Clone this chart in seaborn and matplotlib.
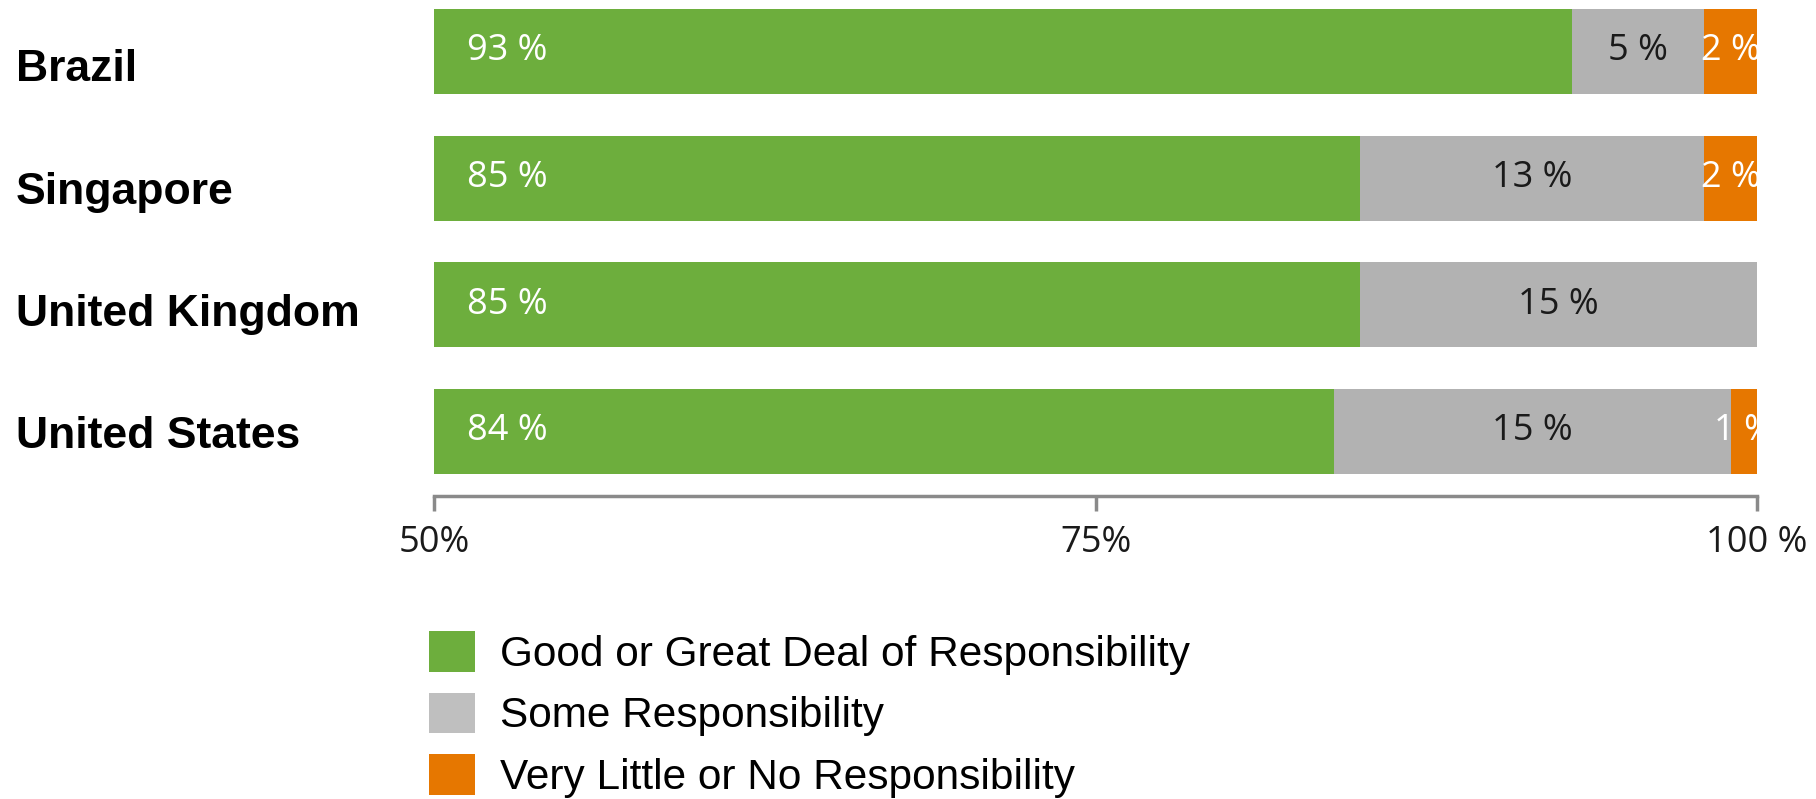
import matplotlib
matplotlib.use("Agg")
import matplotlib.pyplot as plt
from matplotlib.patches import Patch
from matplotlib.transforms import ScaledTranslation
import numpy as np
import pandas as pd
import seaborn as sns

# Survey shares by country (percent)
countries = ["Brazil", "Singapore", "United Kingdom", "United States"]
good_great = [93, 85, 85, 84]
some = [5, 13, 15, 15]
little_none = [2, 2, 0, 1]

series_names = [
    "Good or Great Deal of Responsibility",
    "Some Responsibility",
    "Very Little or No Responsibility",
]
tick_values = [50, 75, 100]
tick_labels = ["50%", "75%", "100 %"]

colors = ["#6DAE3D", "#B2B2B2", "#E67700"]
legend_colors = ["#6DAE3D", "#BFBFBF", "#E67700"]

sns.set_theme(style="white")
plt.rcParams["font.family"] = ["Liberation Sans", "DejaVu Sans"]

df = pd.DataFrame({
    "country": countries,
    "good": good_great,
    "some": some,
    "little": little_none,
})
df["cum_good"] = df["good"]
df["cum_some"] = df["good"] + df["some"]
df["cum_little"] = df["cum_some"] + df["little"]

fig = plt.figure(figsize=(18.16, 7.99), dpi=100)
ax = fig.add_axes([434 / 1816, 1 - 496 / 799, (1757 - 434) / 1816, 496 / 799])

# stacked bars: draw cumulative totals back to front
for col, c in zip(["cum_little", "cum_some", "cum_good"], colors[::-1]):
    sns.barplot(data=df, x=col, y="country", orient="h", color=c,
                width=0.67, linewidth=0, saturation=1, ax=ax)

ax.set_xlim(50, 100)
ax.set_ylim(3.51, -0.406)
ax.set_xlabel("")
ax.set_ylabel("")

# value labels
val_font = dict(family=["Open Sans", "DejaVu Sans"], fontsize=26)
for i, row in df.iterrows():
    ax.text(50 + 1.25, i, f"{row['good']} %", color="white", ha="left",
            va="center", clip_on=True, **val_font)
    if row["some"] > 0:
        ax.text(row["good"] + row["some"] / 2, i, f"{row['some']} %",
                color="#1A1A1A", ha="center", va="center", clip_on=True, **val_font)
    if row["little"] > 0:
        ax.text(row["cum_some"] + row["little"] / 2, i, f"{row['little']} %",
                color="white", ha="center", va="center", clip_on=True, **val_font)

# axes styling
for side in ["top", "right", "left"]:
    ax.spines[side].set_visible(False)
ax.spines["bottom"].set_color("#8A8A8A")
ax.spines["bottom"].set_linewidth(2.5)
ax.set_xticks(tick_values)
ax.set_xticklabels(tick_labels, family=["Open Sans", "DejaVu Sans"], fontsize=26,
                   color="#1A1A1A")
ax.tick_params(axis="x", direction="out", length=11, width=2.5, color="#8A8A8A",
               bottom=True, pad=10)
ax.tick_params(axis="y", length=0, pad=301)

# country names: left-aligned in the margin, row labels sit a little lower
# than the bar centres and drift upward toward the bottom row
for i, lbl in enumerate(ax.get_yticklabels()):
    lbl.set_horizontalalignment("left")
    lbl.set_fontweight("bold")
    lbl.set_fontsize(32)
    lbl.set_color("#000000")
    shift = (14.0 - 4.4 * i) / 100
    lbl.set_transform(lbl.get_transform() + ScaledTranslation(0, -shift, fig.dpi_scale_trans))

handles = [Patch(facecolor=c, edgecolor="none") for c in legend_colors]
leg = fig.legend(handles, series_names, loc="upper left",
                 bbox_to_anchor=(429 / 1816, 1 - 631 / 799), frameon=False,
                 fontsize=30.5, handlelength=1.08, handleheight=1.1, handletextpad=0.6,
                 labelspacing=0.42, borderpad=0, borderaxespad=0)
for t in leg.get_texts():
    t.set_color("#000000")

fig.savefig("out.png", dpi=100)
